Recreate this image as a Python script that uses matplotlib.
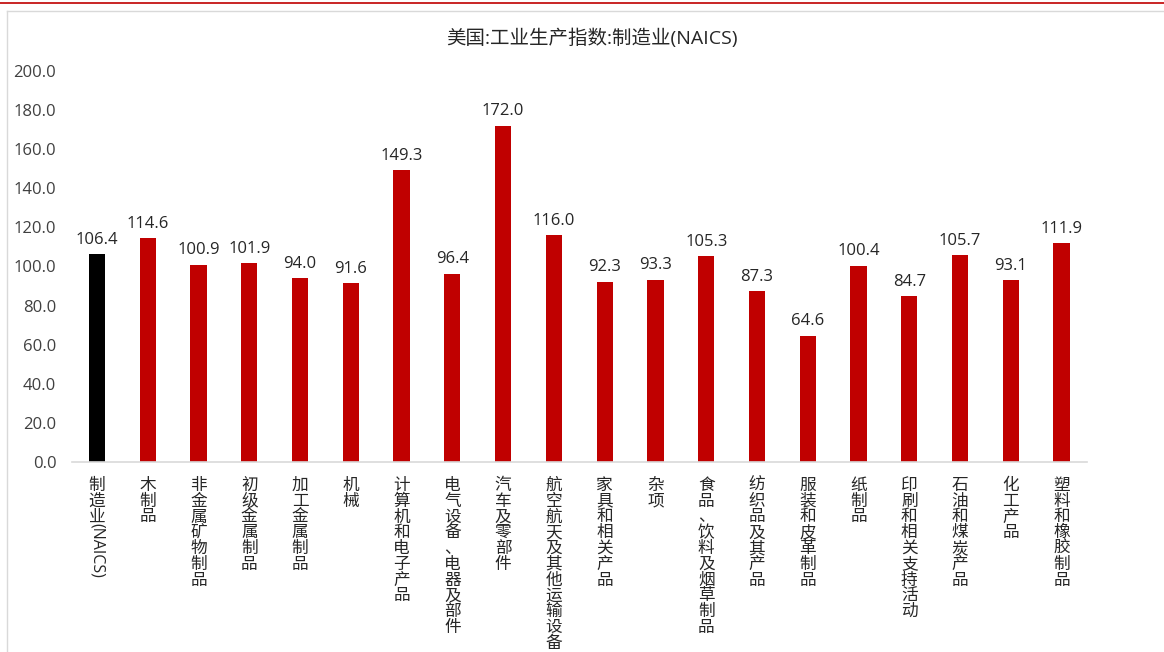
import re
import matplotlib.pyplot as plt
from matplotlib.lines import Line2D

plt.rcParams['font.family'] = ['Open Sans', 'Noto Sans CJK SC', 'DejaVu Sans']

categories = ['制造业(NAICS)', '木制品', '非金属矿物制品', '初级金属制品', '加工金属制品',
              '机械', '计算机和电子产品', '电气设备、电器及部件', '汽车及零部件',
              '航空航天及其他运输设备', '家具和相关产品', '杂项', '食品、饮料及烟草制品',
              '纺织品及其产品', '服装和皮革制品', '纸制品', '印刷和相关支持活动',
              '石油和煤炭产品', '化工产品', '塑料和橡胶制品']
values = [106.4, 114.6, 100.9, 101.9, 94.0, 91.6, 149.3, 96.4, 172.0, 116.0,
          92.3, 93.3, 105.3, 87.3, 64.6, 100.4, 84.7, 105.7, 93.1, 111.9]
yticks = [0, 20, 40, 60, 80, 100, 120, 140, 160, 180, 200]

red = '#C00000'
text_color = '#404040'
dark = '#262626'

fig = plt.figure(figsize=(11.64, 6.52), dpi=100)
ax = fig.add_axes([71.6 / 1164, 1 - 462 / 652, (1087 - 71.6) / 1164, (462 - 71) / 652])

x = list(range(len(categories)))
colors = ['black'] + [red] * (len(categories) - 1)
ax.bar(x, values, width=0.32, color=colors)

for i, v in zip(x, values):
    ax.annotate(f'{v:.1f}', (i, v), xytext=(0, 4.5), textcoords='offset points',
                ha='center', va='bottom', fontsize=12, color=dark)

ax.set_xlim(-0.5, len(categories) - 0.5)
ax.set_ylim(0, 200)
ax.set_yticks(yticks)
ax.set_yticklabels([f'{t:.1f}' for t in yticks], fontsize=12, color=text_color)
ax.tick_params(axis='y', length=0, pad=11)
ax.set_xticks([])
for side in ['top', 'right', 'left']:
    ax.spines[side].set_visible(False)
ax.spines['bottom'].set_color('#d9d9d9')
ax.spines['bottom'].set_linewidth(1.2)

# vertical category labels: CJK characters stacked, latin runs rotated
step = 11.35
for i, label in enumerate(categories):
    offset = 11.5
    for part in re.findall(r'[A-Za-z()]+|.', label):
        if re.match(r'[A-Za-z()]', part):
            ax.annotate(part, (i, 0), xytext=(0, -offset + 1.5), textcoords='offset points',
                        ha='center', va='top', rotation=-90, fontsize=11.5, color=dark,
                        annotation_clip=False)
            offset += len(part) * 6.0
        else:
            ax.annotate(part, (i, 0), xytext=(0, -offset), textcoords='offset points',
                        ha='center', va='top', fontsize=12, color=dark,
                        annotation_clip=False)
            offset += step

fig.text(592 / 1164, 1 - 38 / 652, '美国:工业生产指数:制造业(NAICS)', ha='center', va='center',
         fontsize=14, color=dark)

# chart frame and header rule
fig.add_artist(Line2D([7 / 1164, 1], [1 - 11 / 652] * 2, color='#d9d9d9', lw=1.0))
fig.add_artist(Line2D([7 / 1164] * 2, [0, 1 - 11 / 652], color='#d9d9d9', lw=1.0))
fig.add_artist(Line2D([0, 1], [1 - 2.5 / 652] * 2, color=red, lw=1.2))

fig.savefig('out.png', dpi=100)
